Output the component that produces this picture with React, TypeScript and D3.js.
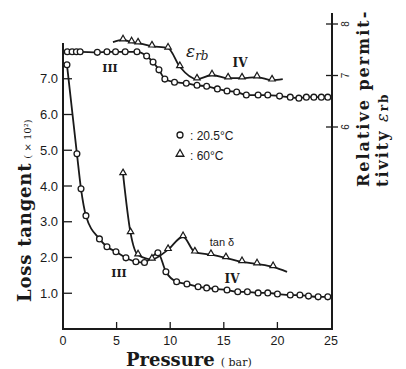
import React from 'react'
import * as d3 from 'd3'

// pressure (bar) / value pairs
const permCircP = [0.4, 0.85, 1.25, 1.6, 3.2, 4.1, 4.9, 5.8, 6.9, 7.8, 8.4, 8.95, 9.5, 10.4, 11.5, 12.5, 13.4, 14.4, 15.3, 16.2, 17.1, 18.2, 19.1, 20.2, 21.2, 22.0, 22.7, 23.4, 24.1, 24.7]
const permCircV = [7.46, 7.46, 7.46, 7.46, 7.45, 7.46, 7.46, 7.46, 7.46, 7.38, 7.26, 7.11, 6.93, 6.87, 6.85, 6.81, 6.79, 6.74, 6.70, 6.68, 6.62, 6.62, 6.62, 6.60, 6.58, 6.56, 6.58, 6.58, 6.58, 6.58]

const permTriP = [4.66, 5.6, 6.4, 7.0, 8.3, 9.8, 10.9, 12.5, 13.9, 15.4, 16.7, 18.1, 19.5, 20.5]
const permTriV = [7.65, 7.69, 7.65, 7.63, 7.57, 7.53, 7.17, 6.93, 7.01, 6.95, 6.95, 6.97, 6.91, 6.93]

const lossCircP = [0.37, 1.3, 1.68, 2.14, 3.4, 4.1, 4.94, 5.87, 6.8, 7.6, 8.85, 9.6, 10.6, 11.56, 12.6, 13.4, 14.2, 15.3, 16.3, 17.2, 18.2, 19.1, 20.0, 21.2, 22.1, 22.9, 23.8, 24.7]
const lossCircV = [7.39, 4.9, 3.92, 3.17, 2.52, 2.30, 2.16, 1.99, 1.88, 1.86, 2.13, 1.6, 1.32, 1.26, 1.18, 1.15, 1.12, 1.09, 1.04, 1.04, 1.01, 1.01, 0.98, 0.95, 0.95, 0.92, 0.90, 0.90]

const lossTriP = [5.6, 6.3, 7.0, 8.3, 9.8, 11.2, 12.3, 13.8, 15.2, 16.7, 18.1, 19.6, 20.9]
const lossTriV = [4.34, 2.69, 2.07, 1.95, 2.22, 2.58, 2.15, 2.08, 1.99, 1.88, 1.82, 1.74, 1.6]

const xTicks = [0, 5, 10, 15, 20, 25]
const leftTicks = [1, 2, 3, 4, 5, 6, 7]
const rightTicks = [6, 7, 8]

const ink = '#1a1a1a'
const serif = '"DejaVu Serif", "Liberation Serif", serif'
const sans = '"Liberation Sans", Arial, sans-serif'

const x = d3.scaleLinear().domain([0, 25]).range([63, 331])
const yL = d3.scaleLinear().domain([0, 8]).range([329, 43])
const yR = d3.scaleLinear().domain([6, 8]).range([127, 24])

type Pt = [number, number]
const zip = (p: number[], v: number[]): Pt[] => p.map((d, i) => [d, v[i]])

function Series({ pts, y, kind, skipFirst = false, skipLast = false }: { pts: Pt[]; y: d3.ScaleLinear<number, number>; kind: 'c' | 't'; skipFirst?: boolean; skipLast?: boolean }) {
    const line = d3.line<Pt>().x(d => x(d[0])).y(d => y(d[1])).curve(d3.curveMonotoneX)
    const marks = pts.filter((_, i) => !(skipFirst && i === 0) && !(skipLast && i === pts.length - 1))
    return (
        <g>
            <path d={line(pts) || ''} fill="none" stroke={ink} strokeWidth={1.8} />
            {marks.map((d, i) => kind === 'c'
                ? <circle key={i} cx={x(d[0])} cy={y(d[1])} r={2.9} fill="#fff" stroke={ink} strokeWidth={1.3} />
                : <path key={i} d={d3.symbol(d3.symbolTriangle, 18)() || ''} transform={`translate(${x(d[0])},${y(d[1]) - 1})`} fill="#fff" stroke={ink} strokeWidth={1.2} />)}
        </g>
    )
}

export default function App() {
    return (
        <svg width={406} height={369} style={{ position: 'absolute', left: 0, top: 0, background: '#fff' }}>
            <rect width={406} height={369} fill="#fff" />
            {/* axes frame */}
            <g stroke={ink} strokeWidth={2} fill="none">
                <line x1={63} y1={43} x2={63} y2={330} />
                <line x1={62} y1={329} x2={333} y2={329} />
                <line x1={332} y1={13} x2={332} y2={330} />
            </g>
            {/* bottom ticks */}
            {xTicks.map(t => (
                <g key={t}>
                    {t > 0 && t < 25 && <line x1={x(t)} x2={x(t)} y1={329} y2={322} stroke={ink} strokeWidth={1.3} />}
                    <text x={x(t)} y={345} textAnchor="middle" fontFamily={sans} fontSize={12.5} fill={ink}>{t}</text>
                </g>
            ))}
            {/* left ticks */}
            {leftTicks.map(t => (
                <g key={t}>
                    <line x1={63} x2={72} y1={yL(t)} y2={yL(t)} stroke={ink} strokeWidth={1.3} />
                    <text x={58} y={yL(t) + 4.5} textAnchor="end" fontFamily={sans} fontSize={13} fill={ink}>{t.toFixed(1)}</text>
                </g>
            ))}
            {/* right ticks */}
            {rightTicks.map(t => (
                <g key={t}>
                    <line x1={326} x2={338} y1={yR(t)} y2={yR(t)} stroke={ink} strokeWidth={1.3} />
                    <text transform={`translate(349,${yR(t)}) rotate(-90)`} textAnchor="middle" fontFamily={sans} fontSize={10} fill={ink}>{t}</text>
                </g>
            ))}

            <Series pts={zip(permCircP, permCircV)} y={yR} kind="c" />
            <Series pts={zip(permTriP, permTriV)} y={yR} kind="t" skipFirst skipLast />
            <Series pts={zip(lossCircP, lossCircV)} y={yL} kind="c" />
            <Series pts={zip(lossTriP, lossTriV)} y={yL} kind="t" skipLast />

            {/* annotations */}
            <g fontFamily={serif} fill={ink}>
                <text x={110} y={72} textAnchor="middle" fontSize={11} fontWeight="bold">III</text>
                <text x={186} y={57} fontSize={17} fontStyle="italic">ε<tspan fontSize={12} dy={3}>rb</tspan></text>
                <text x={240} y={67} textAnchor="middle" fontSize={12} fontWeight="bold">IV</text>
                <text x={119} y={277} textAnchor="middle" fontSize={11} fontWeight="bold">III</text>
                <text x={232} y={283} textAnchor="middle" fontSize={12} fontWeight="bold">IV</text>
            </g>
            <text x={222} y={246} textAnchor="middle" fontFamily={sans} fontSize={11} fill={ink}>tan δ</text>

            {/* legend */}
            <g fontFamily={sans} fontSize={12} fill={ink}>
                <circle cx={180} cy={135} r={3} fill="#fff" stroke={ink} strokeWidth={1.3} />
                <text x={190} y={139.5}>: 20.5°C</text>
                <path d={d3.symbol(d3.symbolTriangle, 26)() || ''} transform="translate(180,154)" fill="#fff" stroke={ink} strokeWidth={1.3} />
                <text x={190} y={159.5}>: 60°C</text>
            </g>

            {/* axis titles */}
            <text transform="translate(31,302) rotate(-90)" fontFamily={serif} fontWeight="bold" fontSize={18} letterSpacing={0.8} fill={ink}>
                Loss tangent<tspan fontSize={10} fontWeight="normal" letterSpacing={0} dx={4}>( × 10²)</tspan>
            </text>
            <text x={126} y={366} fontFamily={serif} fontWeight="bold" fontSize={18} fill={ink}>
                Pressure<tspan fontSize={11} fontWeight="normal" dx={6}>( bar)</tspan>
            </text>
            <text transform="translate(369,187) rotate(-90)" fontFamily={serif} fontWeight="bold" fontSize={16} letterSpacing={2} fill={ink}>Relative permit-</text>
            <text transform="translate(388,187) rotate(-90)" fontFamily={serif} fontWeight="bold" fontSize={16} letterSpacing={2} fill={ink}>
                tivity <tspan fontStyle="italic" fontWeight="normal">ε</tspan><tspan fontSize={12}>rb</tspan>
            </text>
        </svg>
    )
}
